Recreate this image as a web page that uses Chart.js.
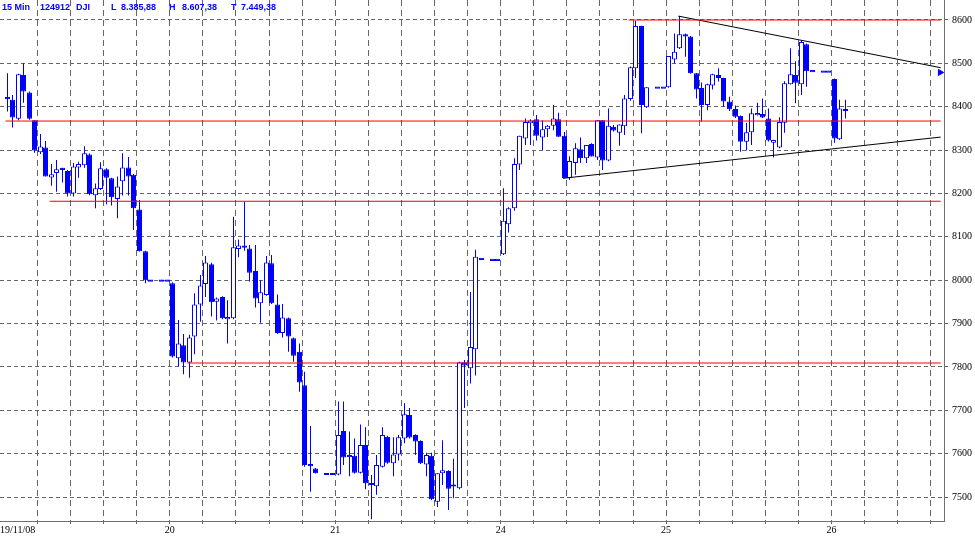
<!DOCTYPE html>
<html>
<head>
<meta charset="utf-8">
<script src="https://cdn.jsdelivr.net/npm/chart.js@4.4.1/dist/chart.umd.min.js"></script>
<style>
  html, body { margin: 0; padding: 0; background: #fff; }
  canvas { display: block; }
</style>
</head>
<body>
<canvas id="kurs" width="975" height="539"></canvas>
<script>
// 15 min DJI, 19/11/08 - 26/11/08, 30 slots per day
const slot = [
  0,1,2,3,4,5,6,7,8,9,10,11,12,13,14,15,16,17,18,19,20,21,22,23,24,25,26,28,29,
  30,31,32,33,34,35,36,37,38,39,40,41,42,43,44,45,46,47,48,49,50,51,52,53,54,55,56,58,59,
  60,61,62,63,64,65,66,67,68,69,70,71,72,73,74,75,76,77,78,79,80,81,82,83,84,85,86,88,89,
  90,91,92,93,94,95,96,97,98,99,100,101,102,103,104,105,106,107,108,109,110,111,112,113,114,115,116,118,119,
  120,121,122,123,124,125,126,127,128,129,130,131,132,133,134,135,136,137,138,139,140,141,142,143,144,145,146,148,149,
  150,151,152
];
const open = [
  8421,8416,8372,8473,8433,8369,8295,8306,8237,8247,8256,8252,8200,8260,8265,8290,8196,8210,8256,8235,8187,8228,8260,8243,8163,8067,7999,7999,7999,
  7993,7820,7850,7810,7870,7944,7991,8037,7950,7961,7910,7912,8072,8077,8073,8021,7947,7966,8039,7944,7878,7912,7866,7835,7758,7573,7566,7553,7553,
  7552,7652,7592,7595,7556,7620,7529,7525,7570,7639,7578,7598,7635,7689,7643,7629,7575,7595,7489,7555,7560,7526,7520,7811,7797,7841,8049,8047,8047,
  8060,8129,8166,8267,8327,8362,8371,8329,8348,8356,8371,8333,8235,8270,8302,8281,8314,8283,8369,8276,8354,8340,8355,8418,8489,8586,8399,8444,8444,
  8445,8509,8535,8567,8562,8477,8443,8404,8449,8473,8466,8412,8395,8379,8319,8341,8381,8383,8373,8317,8306,8363,8452,8473,8452,8544,8482,8481,8481,
  8464,8325,8395
];
const high = [
  8477,8427,8476,8500,8435,8369,8337,8321,8268,8277,8259,8254,8270,8273,8309,8292,8223,8272,8258,8236,8239,8293,8284,8245,8185,8068,8000,7999,7999,
  7995,7908,7876,7874,7970,8012,8056,8040,7960,7963,7954,8146,8094,8181,8081,8081,8000,8056,8058,7967,7945,7914,7868,7854,7789,7664,7567,7553,7553,
  7720,7720,7651,7635,7667,7661,7551,7597,7661,7641,7638,7643,7716,7705,7645,7631,7602,7602,7555,7631,7562,7588,7812,7816,7973,8070,8049,8047,8047,
  8212,8168,8281,8333,8373,8371,8381,8369,8358,8404,8386,8342,8286,8316,8329,8312,8316,8369,8369,8396,8358,8359,8427,8493,8598,8587,8445,8444,8444,
  8517,8569,8609,8569,8563,8478,8456,8453,8476,8489,8467,8423,8403,8380,8363,8396,8409,8419,8396,8324,8376,8459,8535,8505,8554,8546,8482,8481,8481,
  8465,8416,8416
];
const low = [
  8389,8352,8369,8409,8370,8294,8291,8239,8218,8204,8225,8193,8193,8236,8259,8196,8166,8208,8175,8172,8143,8195,8195,8116,8066,7993,7998,7999,7999,
  7822,7801,7783,7775,7829,7904,7961,7916,7907,7910,7854,7910,8053,8068,7997,7937,7902,7964,7945,7876,7868,7835,7812,7743,7570,7512,7554,7553,7553,
  7550,7574,7548,7554,7554,7518,7449,7505,7568,7577,7548,7584,7624,7635,7597,7576,7548,7493,7477,7528,7470,7497,7518,7705,7762,7780,8049,8047,8047,
  8058,8110,8160,8254,8312,8312,8322,8300,8330,8346,8331,8235,8231,8243,8270,8270,8285,8277,8254,8274,8343,8310,8335,8414,8466,8339,8397,8444,8444,
  8444,8500,8533,8515,8476,8419,8366,8392,8440,8458,8400,8390,8374,8296,8299,8312,8380,8374,8320,8283,8304,8340,8451,8408,8427,8446,8482,8481,8481,
  8317,8323,8373
];
const close = [
  8419,8375,8475,8435,8372,8299,8308,8239,8244,8256,8257,8200,8262,8268,8293,8198,8212,8258,8236,8191,8216,8260,8239,8166,8067,8000,7999,7999,7999,
  7824,7854,7810,7868,7944,7988,8041,7949,7958,7912,7915,8076,8080,8078,8017,7958,7972,8041,7947,7878,7914,7870,7826,7764,7574,7574,7555,7553,7553,
  7643,7591,7597,7556,7620,7532,7531,7574,7643,7579,7598,7638,7691,7637,7628,7578,7597,7495,7555,7562,7519,7527,7811,7803,7846,8054,8049,8047,8047,
  8137,8166,8268,8333,8365,8368,8333,8348,8356,8373,8331,8235,8275,8304,8281,8312,8285,8369,8276,8356,8345,8359,8419,8491,8586,8404,8445,8444,8444,
  8517,8527,8567,8562,8477,8440,8404,8452,8475,8466,8412,8394,8377,8319,8341,8385,8385,8375,8322,8323,8365,8454,8475,8455,8549,8482,8482,8481,8481,
  8327,8396,8390
];

// x axis: day boundaries (slot) and names
const dayStart = [30, 60, 90, 120, 150];
const dayName = ['20', '21', '24', '25', '26'];
const firstDay = '19/11/08';
const priceTicks = [7500, 7600, 7700, 7800, 7900, 8000, 8100, 8200, 8300, 8400, 8500, 8600];

// drawn lines (slot, price)
const redLevel = [8600, 8367, 8182, 7809];
const redFrom = [113.2, 0.2, 8.2, 33.2];
const lineEnd = 169.8;
const upperTrend = [[122.2, 8609], [169.8, 8490]];
const lowerTrend = [[101.3, 8235], [169.8, 8330]];
const lastMark = [169.7, 8479];

const header = [['15 Min', 2], ['124912', 40], ['DJI', 76], ['L', 111], ['8.385,88', 121],
                ['H', 169], ['8.607,38', 182], ['T', 231], ['7.449,38', 241]];

const blue = '#0000ff';
let wicks = [], bodies = [], bodyColor = [];
for (let i = 0; i < slot.length; i++) {
  let x = slot[i] + 0.5;
  let lo = Math.min(open[i], close[i]), hi = Math.max(open[i], close[i]);
  if (hi - lo < 5) { let m = (hi + lo) / 2; lo = m - 2.5; hi = m + 2.5; }
  wicks.push({x: x, y: [low[i], high[i]]});
  bodies.push({x: x, y: [lo, hi]});
  bodyColor.push(close[i] > open[i] + 2 ? '#ffffff' : blue);
}

let lineSets = [];
redLevel.forEach((lv, i) => {
  lineSets.push({type: 'line', data: [{x: redFrom[i], y: lv}, {x: lineEnd, y: lv}],
    borderColor: '#ff0000', borderWidth: 1, pointRadius: 0, order: 0});
});
[upperTrend, lowerTrend].forEach(t => {
  lineSets.push({type: 'line', data: t.map(p => ({x: p[0], y: p[1]})),
    borderColor: '#000000', borderWidth: 1, pointRadius: 0, order: 0});
});
lineSets.push({type: 'line', data: [{x: lastMark[0], y: lastMark[1]}], showLine: false,
  pointStyle: 'triangle', rotation: 90, pointRadius: 3.5, backgroundColor: blue, borderColor: blue,
  borderWidth: 1, order: 0});

// put candle centres on pixel centres so 1px wicks stay sharp
const snap = {
  id: 'snap',
  beforeDatasetsDraw(chart) {
    chart.data.datasets.forEach((ds, i) => {
      if (ds.type === 'line') return;
      chart.getDatasetMeta(i).data.forEach(el => { el.x = Math.floor(el.x) + 0.5; });
    });
  }
};

const texte = {
  id: 'texte',
  afterDraw(chart) {
    const c = chart.ctx;
    c.save();
    c.fillStyle = blue;
    c.font = 'bold 9px "Liberation Sans", Arial, sans-serif';
    c.textBaseline = 'alphabetic';
    header.forEach(h => c.fillText(h[0], h[1], 10));
    c.fillStyle = '#000';
    c.font = '10px "Liberation Serif", serif';
    c.textBaseline = 'middle';
    c.fillText(firstDay, 0, 530);
    c.restore();
  }
};

new Chart(document.getElementById('kurs'), {
  type: 'bar',
  data: {
    datasets: lineSets.concat([
      {data: bodies, backgroundColor: bodyColor, borderColor: blue, borderWidth: 1,
       borderSkipped: false, barThickness: 5, grouped: false, inflateAmount: 0, order: 1},
      {data: wicks, backgroundColor: blue, borderWidth: 0, barThickness: 1,
       grouped: false, inflateAmount: 0, order: 2}
    ])
  },
  options: {
    responsive: false,
    animation: false,
    devicePixelRatio: 1,
    layout: {padding: 0, autoPadding: false},
    plugins: {legend: {display: false}, tooltip: {enabled: false}},
    scales: {
      x: {
        type: 'linear', min: -0.8, max: 170.4, offset: false,
        grid: {offset: false, color: '#666', tickLength: 3, tickColor: '#666'},
        border: {display: true, color: '#707070', width: 1, dash: [6, 4]},
        ticks: {autoSkip: false, maxRotation: 0, padding: 0, color: '#000',
          font: {family: 'Liberation Serif', size: 10},
          callback: v => { let k = dayStart.indexOf(v); return k < 0 ? '' : dayName[k]; }},
        afterBuildTicks: s => {
          let t = [];
          for (let v = 6; v <= 168; v += 6) t.push({value: v});
          s.ticks = t;
        },
        afterFit: s => { s.height = 18; s.paddingLeft = 0; s.paddingRight = 0; }
      },
      y: {
        position: 'right', min: 7444.7, max: 8646.1,
        grid: {color: '#666', tickLength: 4, tickColor: '#666'},
        border: {display: true, color: '#707070', width: 1, dash: [4, 3]},
        ticks: {padding: 4, color: '#000', font: {family: 'Liberation Serif', size: 10},
          callback: v => String(v)},
        afterBuildTicks: s => { s.ticks = priceTicks.map(v => ({value: v})); },
        afterFit: s => { s.width = 31; s.paddingTop = 0; s.paddingBottom = 0; }
      }
    }
  },
  plugins: [snap, texte]
});
</script>
</body>
</html>
